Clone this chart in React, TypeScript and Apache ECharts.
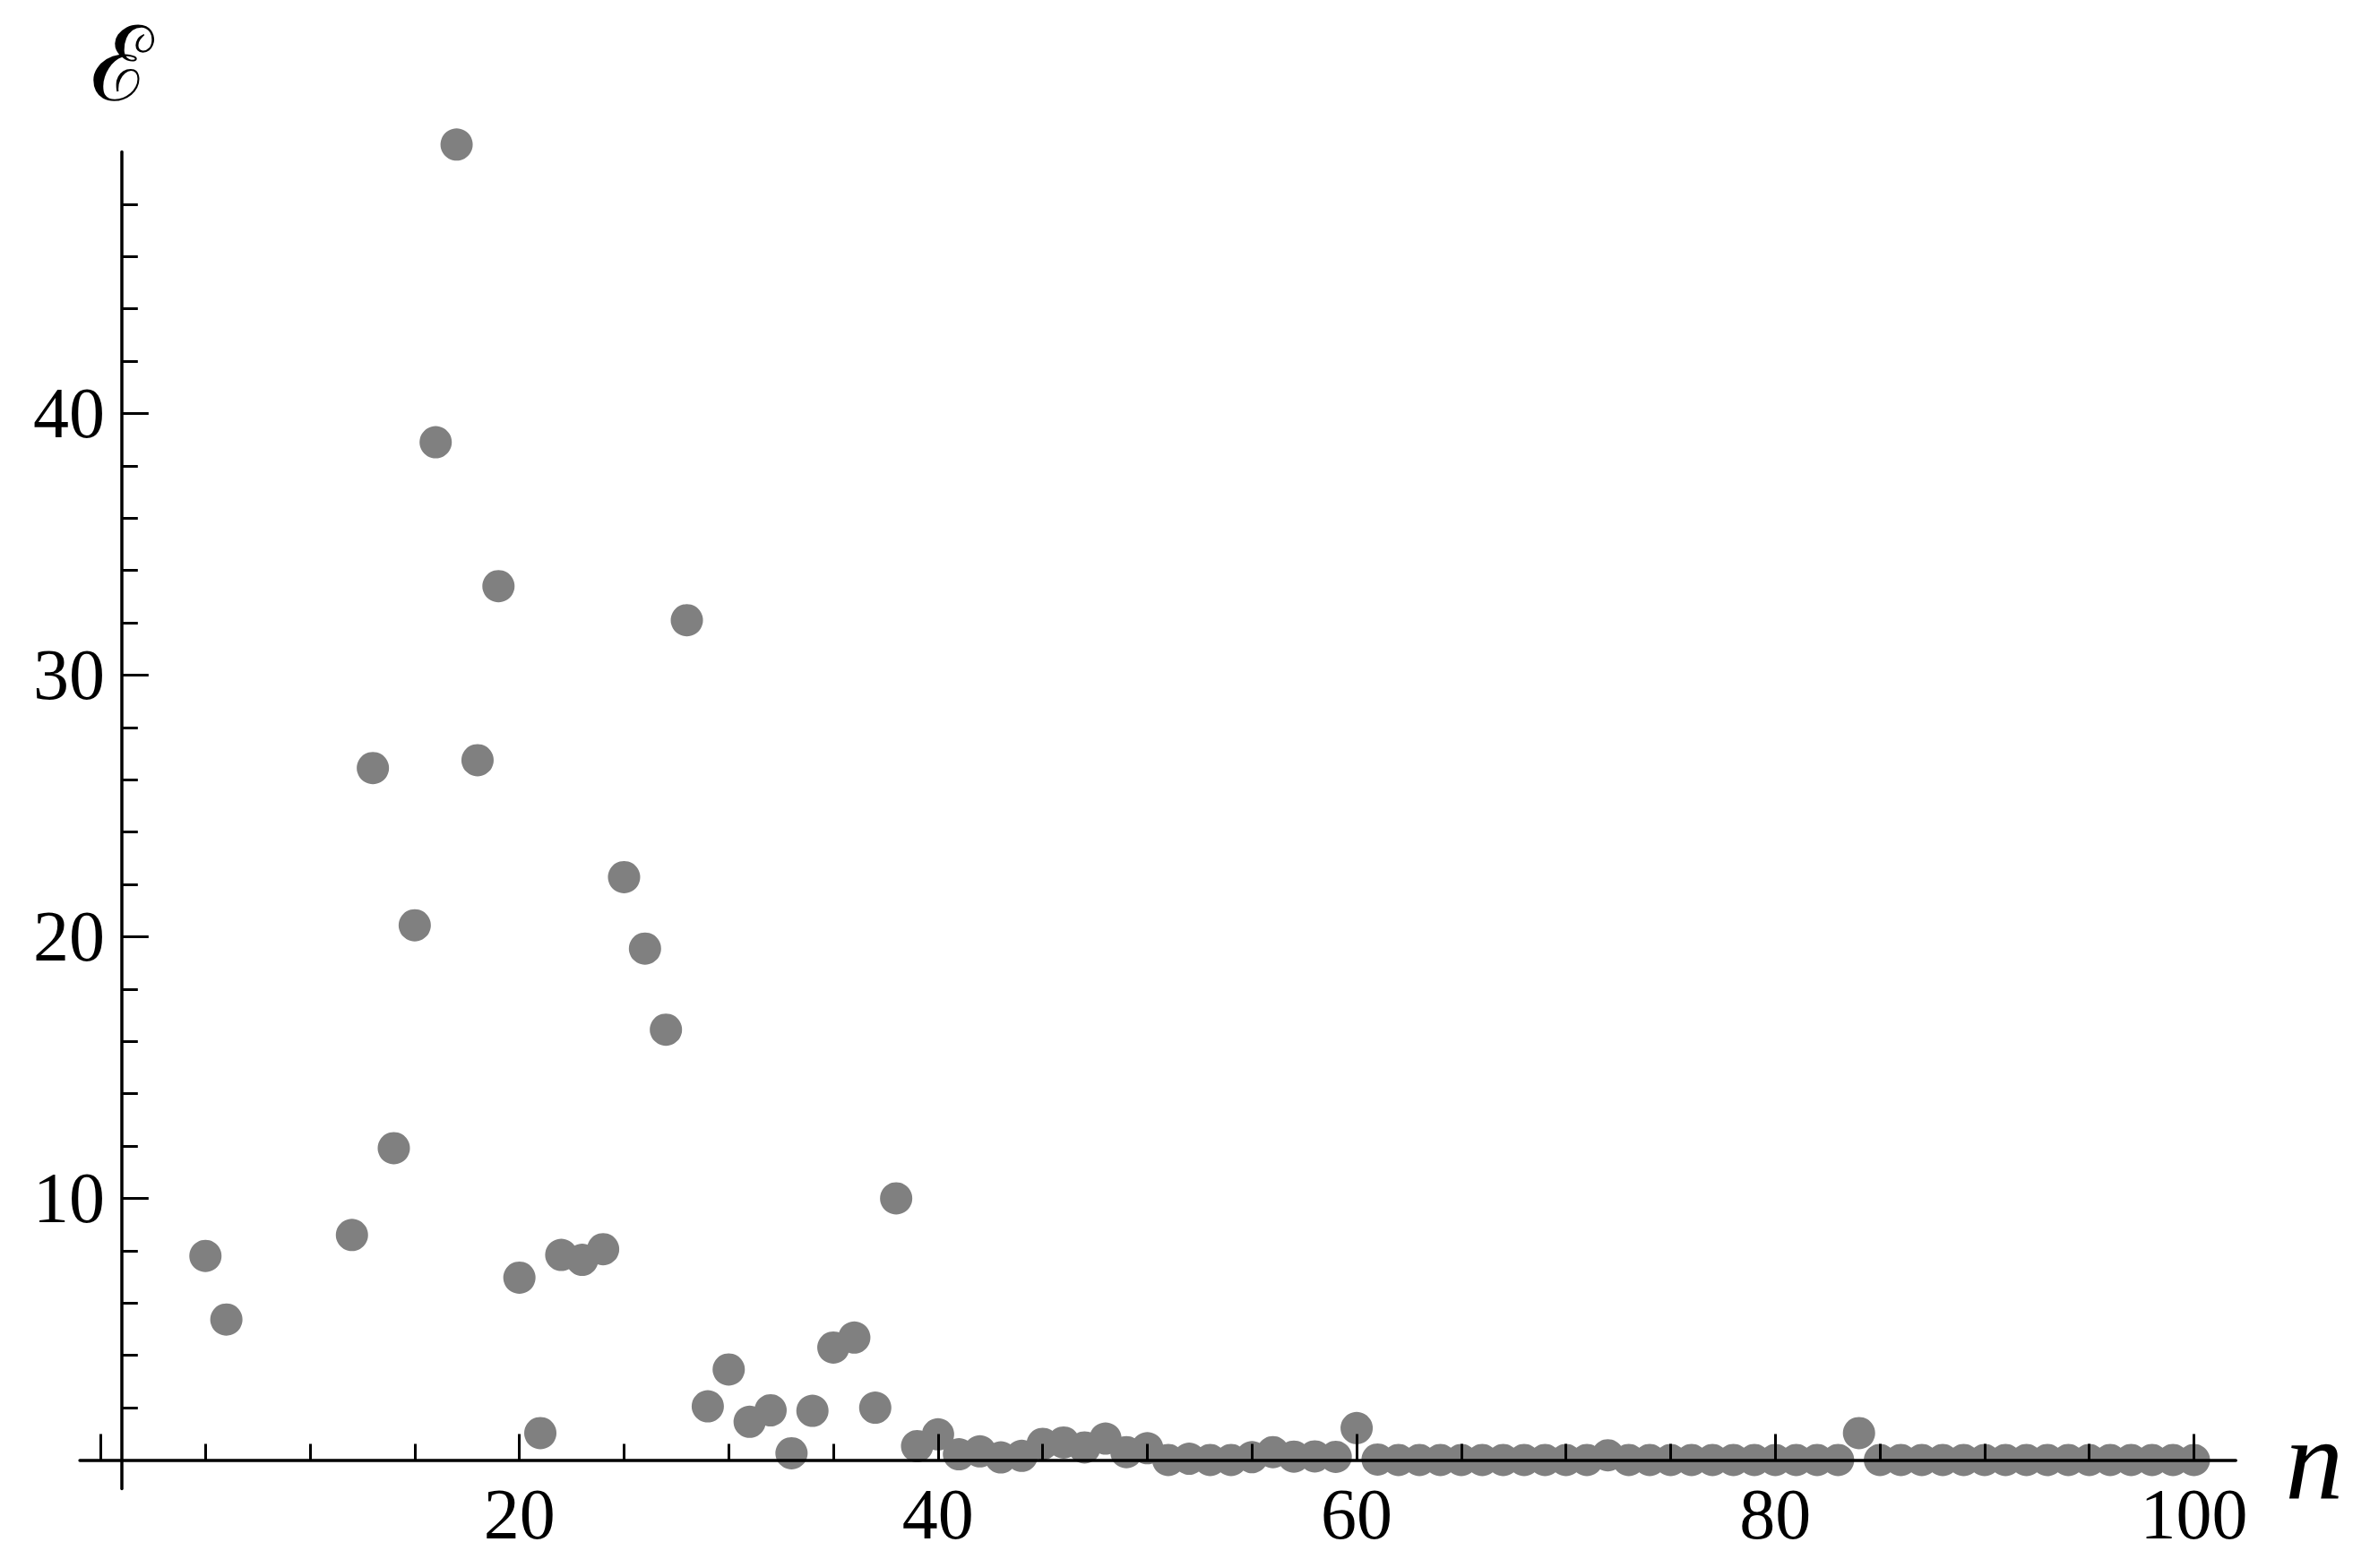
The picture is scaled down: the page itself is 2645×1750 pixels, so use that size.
import React, { useEffect, useRef } from "react";
import * as echarts from "echarts";

// n values (x) and the corresponding energies (y)
const nValues = [
  5, 6, 12, 13, 14, 15, 16, 17, 18, 19, 20, 21, 22, 23, 24, 25, 26, 27, 28, 29,
  30, 31, 32, 33, 34, 35, 36, 37, 38, 39, 40, 41, 42, 43, 44, 45, 46, 47, 48, 49,
  50, 51, 52, 53, 54, 55, 56, 57, 58, 59, 60, 61, 62, 63, 64, 65, 66, 67, 68, 69,
  70, 71, 72, 73, 74, 75, 76, 77, 78, 79, 80, 81, 82, 83, 84, 85, 86, 87, 88, 89,
  90, 91, 92, 93, 94, 95, 96, 97, 98, 99, 100,
];
const epsValues = [
  7.8, 5.37, 8.6, 26.45, 11.92, 20.44, 38.9, 50.28, 26.75, 33.4, 6.97, 1.03, 7.84, 7.65, 8.06, 22.28, 19.55, 16.45, 32.1, 2.05,
  3.46, 1.46, 1.9, 0.26, 1.88, 4.3, 4.68, 2.0, 10.0, 0.53, 0.98, 0.22, 0.33, 0.1, 0.16, 0.62, 0.67, 0.48, 0.82, 0.3,
  0.45, 0.0, 0.05, 0.0, 0.0, 0.11, 0.3, 0.13, 0.14, 0.12, 1.22, 0.02, 0.0, 0.0, 0.0, 0.0, 0.0, 0.0, 0.0, 0.0,
  0.0, 0.0, 0.18, 0.0, 0.0, 0.0, 0.0, 0.0, 0.0, 0.0, 0.0, 0.0, 0.0, 0.0, 1.03, 0.0, 0.0, 0.0, 0.0, 0.0,
  0.0, 0.0, 0.0, 0.0, 0.0, 0.0, 0.0, 0.0, 0.0, 0.0, 0.0,
];

const xMajorTicks = [0, 20, 40, 60, 80, 100];
const xTickLabels = [20, 40, 60, 80, 100];
const xMinorTicks = [5, 10, 15, 25, 30, 35, 45, 50, 55, 65, 70, 75, 85, 90, 95];
const yMajorTicks = [10, 20, 30, 40];
const yTickLabels = [10, 20, 30, 40];
const yMinorTicks = [2, 4, 6, 8, 12, 14, 16, 18, 22, 24, 26, 28, 32, 34, 36, 38, 42, 44, 46, 48];

const X_MIN = -1;
const X_MAX = 102;
const Y_MIN = -1.1;
const Y_MAX = 50;
const Y_AXIS_AT_N = 1;

export default function App() {
  const ref = useRef<HTMLDivElement>(null);

  useEffect(() => {
    if (!ref.current) return;
    const chart = echarts.init(ref.current, undefined, { renderer: "svg" });
    const black = "#000000";
    const labelFont = "'Liberation Serif', 'Times New Roman', serif";

    const option: any = {
      animation: false,
      backgroundColor: "#ffffff",
      grid: {
        left: 89.1,
        right: 149.8,
        top: 169.5,
        bottom: 88.4,
        containLabel: false,
        outerBoundsMode: "none",
      },
      xAxis: [
        {
          type: "value",
          position: "bottom",
          min: X_MIN,
          max: X_MAX,
          z: 5,
          name: "n",
          nameLocation: "end",
          nameGap: 55,
          nameTextStyle: {
            fontSize: 130,
            fontFamily: labelFont,
            fontStyle: "italic",
            color: black,
            padding: [0, 0, 16, 0],
          },
          axisLine: { show: true, onZero: true, onZeroAxisIndex: 0, lineStyle: { color: black, width: 3.5 } },
          axisTick: { show: true, inside: true, length: 29, customValues: xMajorTicks, lineStyle: { color: black, width: 3 } },
          axisLabel: {
            show: true,
            customValues: xTickLabels,
            margin: -12,
            fontSize: 80,
            fontFamily: labelFont,
            color: black,
          },
          splitLine: { show: false },
          minorTick: { show: false },
        },
        {
          type: "value",
          position: "bottom",
          min: X_MIN,
          max: X_MAX,
          z: 5,
          axisLine: { show: false, onZero: true, onZeroAxisIndex: 0 },
          axisTick: { show: true, inside: true, length: 18, customValues: xMinorTicks, lineStyle: { color: black, width: 3 } },
          axisLabel: { show: false },
          splitLine: { show: false },
        },
        {
          type: "value",
          position: "bottom",
          show: false,
          min: X_MIN - Y_AXIS_AT_N,
          max: X_MAX - Y_AXIS_AT_N,
          axisLine: { onZero: false },
          splitLine: { show: false },
        },
      ],
      yAxis: [
        {
          type: "value",
          position: "left",
          min: Y_MIN,
          max: Y_MAX,
          z: 5,
          name: "ℰ",
          nameLocation: "end",
          nameGap: 38,
          nameTextStyle: {
            fontSize: 116,
            lineHeight: 120,
            fontFamily: "'DejaVu Serif', serif",
            color: black,
          },
          axisLine: { show: true, onZero: true, onZeroAxisIndex: 2, lineStyle: { color: black, width: 3.5 } },
          axisTick: { show: true, inside: true, length: 30, customValues: yMajorTicks, lineStyle: { color: black, width: 3 } },
          axisLabel: {
            show: true,
            customValues: yTickLabels,
            margin: -28,
            fontSize: 80,
            fontFamily: labelFont,
            color: black,
          },
          splitLine: { show: false },
          minorTick: { show: false },
        },
        {
          type: "value",
          position: "left",
          min: Y_MIN,
          max: Y_MAX,
          z: 5,
          axisLine: { show: false, onZero: true, onZeroAxisIndex: 2 },
          axisTick: { show: true, inside: true, length: 18, customValues: yMinorTicks, lineStyle: { color: black, width: 3 } },
          axisLabel: { show: false },
          splitLine: { show: false },
        },
      ],
      series: [
        {
          type: "scatter",
          xAxisIndex: 0,
          yAxisIndex: 0,
          clip: false,
          symbol: "circle",
          symbolSize: 36,
          itemStyle: { color: "#808080", opacity: 1 },
          data: nValues.map((n, i) => [n, epsValues[i]]),
          z: 2,
        },
      ],
    };

    chart.setOption(option);
    return () => chart.dispose();
  }, []);

  return (
    <div
      ref={ref}
      style={{ position: "absolute", left: 0, top: 0, width: 2645, height: 1750, background: "#fff" }}
    />
  );
}
